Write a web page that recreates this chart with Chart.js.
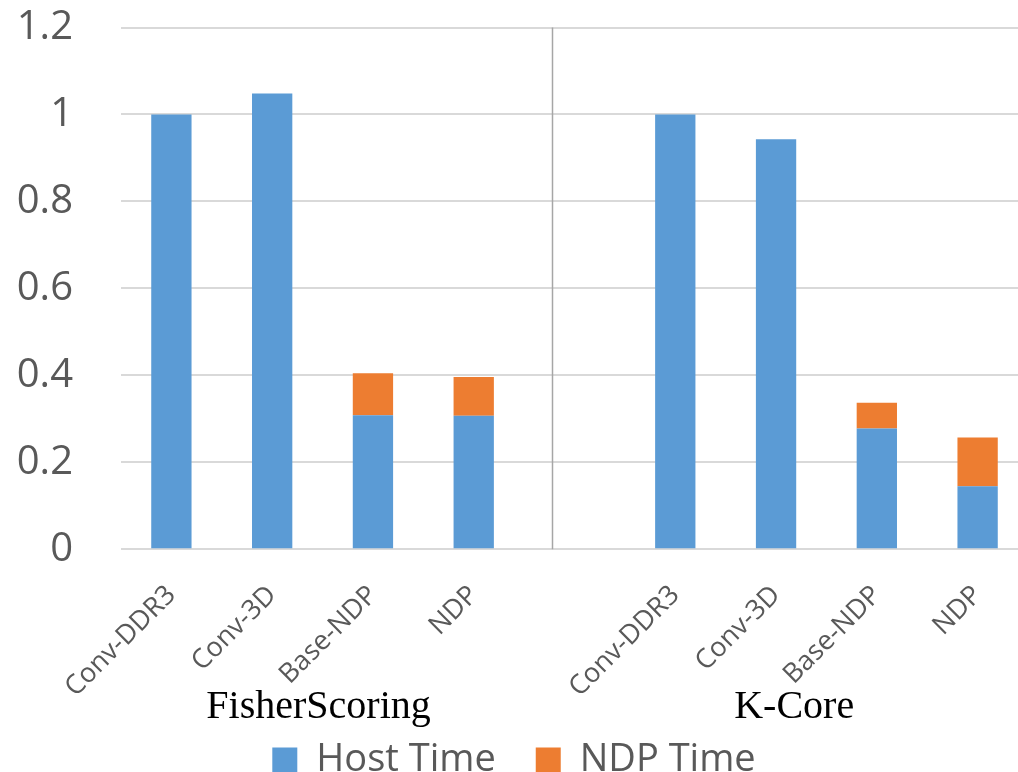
<!DOCTYPE html>
<html>
<head>
<meta charset="utf-8">
<script src="https://cdn.jsdelivr.net/npm/chart.js@4.4.0/dist/chart.umd.min.js"></script>
<style>
  html, body { margin: 0; padding: 0; background: #fff; overflow: hidden; }
  #wrap { width: 1018px; height: 772px; overflow: hidden; }
</style>
</head>
<body>
<div id="wrap"><canvas id="chart" width="1030" height="790"></canvas></div>
<script>
// categories (slot 4 is the empty gap between the two workloads)
const configs = ['Conv-DDR3', 'Conv-3D', 'Base-NDP', 'NDP', '', 'Conv-DDR3', 'Conv-3D', 'Base-NDP', 'NDP'];
const workloads = ['FisherScoring', 'K-Core'];

// normalized execution time
const hostTime = [1.0, 1.048, 0.308, 0.307, null, 1.0, 0.943, 0.278, 0.145];
const ndpTime = [0, 0, 0.097, 0.089, null, 0, 0, 0.059, 0.112];

const yTicks = [0, 0.2, 0.4, 0.6, 0.8, 1, 1.2];

// where things sit along the category axis (in category index units)
const workloadCenters = [1.46, 6.18];
const separatorAt = 3.777;

const grey = '#595959';

/** draws the workload names and the separator between the groups */
const groupLabels = {
  id: 'groupLabels',
  afterDraw(chart) {
    const {ctx, chartArea, scales: {x}} = chart;
    ctx.save();
    const sx = Math.round(x.getPixelForValue(separatorAt)) + 0.5;
    ctx.strokeStyle = '#a6a6a6';
    ctx.lineWidth = 1.5;
    ctx.beginPath();
    ctx.moveTo(sx, chartArea.top);
    ctx.lineTo(sx, chartArea.bottom);
    ctx.stroke();

    ctx.fillStyle = '#000';
    ctx.font = '40px "Liberation Serif", "Times New Roman", serif';
    ctx.textAlign = 'center';
    ctx.textBaseline = 'alphabetic';
    workloads.forEach((name, i) => {
      ctx.fillText(name, x.getPixelForValue(workloadCenters[i]), chartArea.bottom + 169);
    });
    ctx.restore();
  },
};

new Chart(document.getElementById('chart'), {
  type: 'bar',
  data: {
    labels: configs,
    datasets: [
      {
        label: 'Host Time',
        data: hostTime,
        backgroundColor: '#5b9bd5',
      },
      {
        label: 'NDP Time',
        data: ndpTime,
        backgroundColor: '#ed7d31',
      },
    ],
  },
  options: {
    responsive: false,
    animation: false,
    devicePixelRatio: 1,
    categoryPercentage: 1,
    barPercentage: 0.4,
    layout: {
      padding: {top: 27.5, right: 2, left: 0, bottom: 1},
    },
    scales: {
      x: {
        stacked: true,
        grid: {display: false},
        border: {display: false},
        ticks: {
          autoSkip: false,
          minRotation: 45,
          maxRotation: 45,
          padding: 22,
          color: grey,
          font: {family: '"Open Sans"', size: 27},
        },
        afterFit(scale) {
          scale.height = 151.7;
          scale.paddingTop = 0;
          scale.paddingBottom = 0;
        },
      },
      y: {
        stacked: true,
        min: 0,
        max: 1.2,
        afterBuildTicks(scale) {
          scale.ticks = yTicks.map((v) => ({value: v}));
        },
        grid: {color: '#d9d9d9', lineWidth: 2, drawTicks: false},
        border: {display: false},
        ticks: {
          padding: 48,
          color: grey,
          font: {family: '"Open Sans"', size: 40},
          callback: (v) => String(v),
        },
        afterFit(scale) {
          scale.width = 121;
          scale.paddingTop = 0;
          scale.paddingBottom = 0;
        },
      },
    },
    plugins: {
      legend: {
        position: 'bottom',
        labels: {
          boxWidth: 25,
          boxHeight: 25,
          padding: 40,
          color: grey,
          font: {family: '"Open Sans"', size: 38},
        },
      },
      tooltip: {enabled: false},
    },
  },
  plugins: [groupLabels],
});
</script>
</body>
</html>
